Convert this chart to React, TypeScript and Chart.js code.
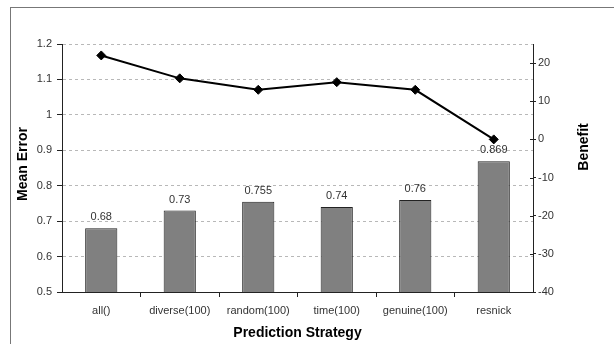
import React, { useEffect, useRef } from "react";
import { Chart, registerables } from "chart.js";

Chart.register(...registerables);

const categories = ["all()", "diverse(100)", "random(100)", "time(100)", "genuine(100)", "resnick"];
const meanError = [0.68, 0.73, 0.755, 0.74, 0.76, 0.869];
const benefit = [22, 16, 13, 15, 13, 0];
const benefitTicks = [-40, -30, -20, -10, 0, 10, 20];

const FONT = 'Arial, "Liberation Sans", sans-serif';
const W = 614;
const H = 344;

// Frame, axis titles and the value labels above the bars.
const decorations = {
  id: "decorations",
  beforeDraw(chart: any) {
    const ctx = chart.ctx;
    ctx.save();
    ctx.strokeStyle = "#777";
    ctx.lineWidth = 1;
    ctx.strokeRect(10.5, 7.5, 800, 500);
    ctx.restore();
  },
  afterDatasetsDraw(chart: any) {
    const ctx = chart.ctx;
    const area = chart.chartArea;
    ctx.save();
    // inner half of the right-axis tick marks
    const y1 = chart.scales.y1;
    ctx.strokeStyle = "#222";
    ctx.lineWidth = 1;
    ctx.beginPath();
    benefitTicks.forEach((v) => {
      const py = Math.round(y1.getPixelForValue(v)) + 0.5;
      ctx.moveTo(area.right - 3, py);
      ctx.lineTo(area.right, py);
    });
    ctx.stroke();

    // values above bars
    const meta = chart.getDatasetMeta(1);
    ctx.font = `11px ${FONT}`;
    ctx.fillStyle = "#333";
    ctx.textAlign = "center";
    ctx.textBaseline = "middle";
    meta.data.forEach((bar: any, i: number) => {
      ctx.fillText(String(meanError[i]), bar.x, bar.y - 11);
    });

    ctx.fillStyle = "#000";
    ctx.font = `bold 14px ${FONT}`;
    // x title
    ctx.fillText("Prediction Strategy", (area.left + area.right) / 2, 333);
    // left title
    ctx.save();
    ctx.translate(23, 164);
    ctx.rotate(-Math.PI / 2);
    ctx.fillText("Mean Error", 0, 0);
    ctx.restore();
    // right title
    ctx.save();
    ctx.translate(584, 147);
    ctx.rotate(-Math.PI / 2);
    ctx.fillText("Benefit", 0, 0);
    ctx.restore();
    ctx.restore();
  },
};

export default function App() {
  const ref = useRef<HTMLCanvasElement | null>(null);

  useEffect(() => {
    document.body.style.margin = "0";
    const canvas = ref.current;
    if (!canvas) return;
    const chart = new Chart(canvas, {
      type: "bar",
      data: {
        labels: categories,
        datasets: [
          {
            type: "line",
            label: "Benefit",
            data: benefit,
            yAxisID: "y1",
            borderColor: "#000",
            backgroundColor: "#000",
            borderWidth: 2,
            pointStyle: "rectRot",
            pointRadius: 4.5,
            pointBorderWidth: 1,
            tension: 0,
          } as any,
          {
            type: "bar",
            label: "Mean Error",
            data: meanError,
            yAxisID: "y",
            backgroundColor: "#808080",
            borderColor: "#222",
            borderWidth: 1,
            categoryPercentage: 1,
            barPercentage: 0.41,
          },
        ],
      },
      options: {
        responsive: false,
        animation: false,
        layout: { padding: { top: 44, left: 0, right: 0, bottom: 0 } },
        plugins: {
          legend: { display: false },
          tooltip: { enabled: false },
        },
        scales: {
          x: {
            offset: true,
            grid: {
              offset: true,
              drawOnChartArea: false,
              drawTicks: true,
              tickLength: 5,
              tickColor: (c: any) => (c.type === "tick" && c.index > 0 ? "#222" : "rgba(0,0,0,0)"),
            },
            border: { display: true, color: "#222" },
            ticks: {
              font: { family: FONT, size: 11 },
              color: "#333",
              padding: 7,
              maxRotation: 0,
              autoSkip: false,
            },
            afterFit(scale: any) {
              scale.height = H - 292;
            },
          },
          y: {
            position: "left",
            min: 0.5,
            max: 1.2,
            ticks: {
              stepSize: 0.1,
              font: { family: FONT, size: 11 },
              color: "#333",
              padding: 5,
              callback: (v: any) => String(Math.round(Number(v) * 10) / 10),
            },
            grid: {
              color: (c: any) => (c.tick && Math.abs(c.tick.value - 0.5) < 1e-6 ? "rgba(0,0,0,0)" : "#b8b8b8"),
              tickColor: "#222",
              tickLength: 5,
              tickBorderDash: [],
            },
            border: { display: true, color: "#222", dash: [3, 3] },
            afterFit(scale: any) {
              scale.width = 62;
            },
          },
          y1: {
            position: "right",
            min: -40,
            max: 25,
            afterBuildTicks(scale: any) {
              scale.ticks = benefitTicks.map((v) => ({ value: v }));
            },
            ticks: {
              font: { family: FONT, size: 11 },
              color: "#333",
              padding: 2,
            },
            grid: {
              drawOnChartArea: false,
              tickColor: "#222",
              tickLength: 3,
            },
            border: { display: true, color: "#222" },
            afterFit(scale: any) {
              scale.width = W - 533;
            },
          },
        },
      },
      plugins: [decorations],
    });
    return () => chart.destroy();
  }, []);

  return <canvas ref={ref} width={W} height={H} style={{ display: "block" }} />;
}
